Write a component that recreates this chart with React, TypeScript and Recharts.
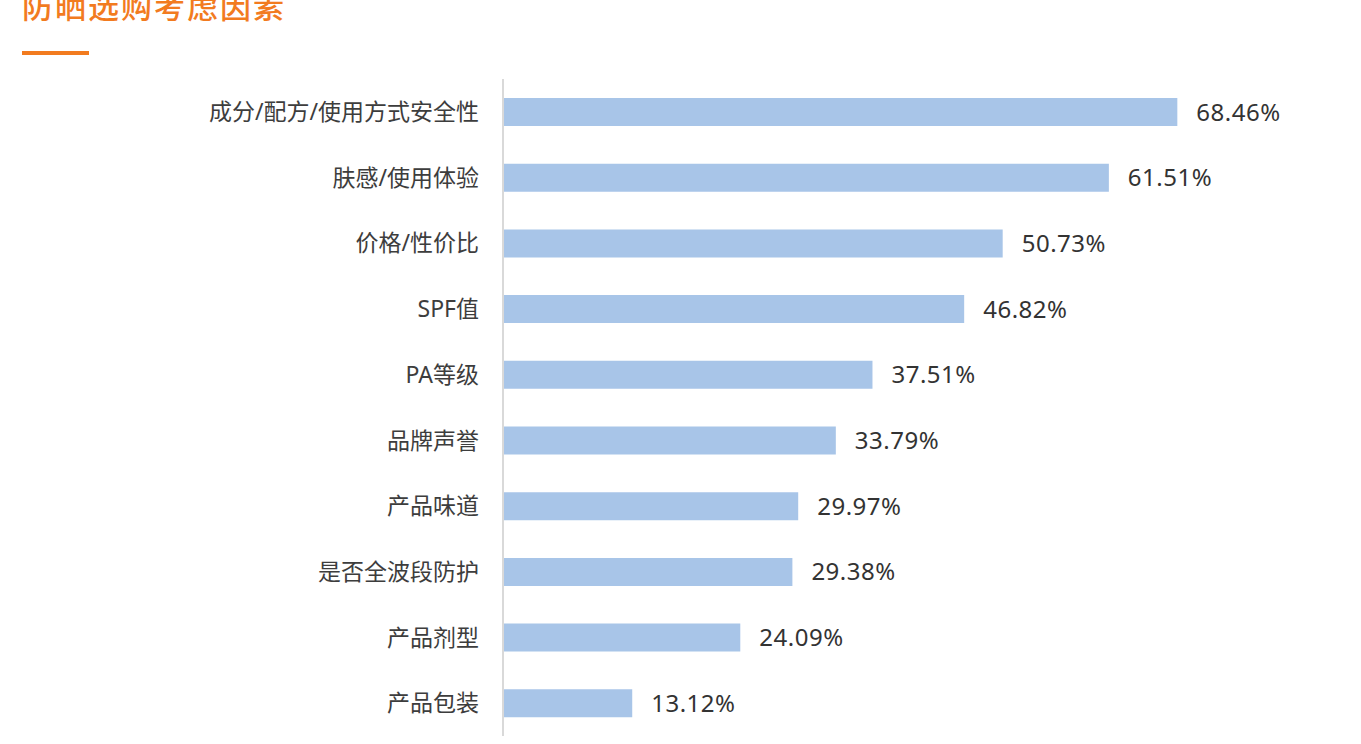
import { Bar, BarChart, LabelList, XAxis, YAxis } from "recharts";

const categories = [
  "成分/配方/使用方式安全性",
  "肤感/使用体验",
  "价格/性价比",
  "SPF值",
  "PA等级",
  "品牌声誉",
  "产品味道",
  "是否全波段防护",
  "产品剂型",
  "产品包装",
];

const shares = [68.46, 61.51, 50.73, 46.82, 37.51, 33.79, 29.97, 29.38, 24.09, 13.12];

const data = categories.map((name, i) => ({ name, value: shares[i] }));

const FONT = '"Noto Sans", "Noto Sans CJK SC", sans-serif';

export default function App() {
  return (
    <div
      style={{
        position: "fixed",
        left: 0,
        top: 0,
        width: 1361,
        height: 744,
        background: "#fff",
        overflow: "hidden",
        fontFamily: FONT,
      }}
    >
      <div
        style={{
          position: "absolute",
          left: 22,
          top: -18,
          fontSize: 31,
          fontWeight: 500,
          letterSpacing: 2,
          color: "#F27B1F",
          fontFamily: '"Noto Sans CJK SC", sans-serif',
          whiteSpace: "nowrap",
        }}
      >
        防晒选购考虑因素
      </div>
      <div
        style={{
          position: "absolute",
          left: 22,
          top: 51,
          width: 67,
          height: 4,
          background: "#F27B1F",
        }}
      />
      <BarChart
        width={1361}
        height={744}
        data={data}
        layout="vertical"
        margin={{ top: 79, right: 70, bottom: 8, left: 0 }}
        barCategoryGap={19}
        style={{ position: "absolute", left: 0, top: 0 }}
      >
        <XAxis type="number" domain={[0, 80]} hide />
        <YAxis
          type="category"
          dataKey="name"
          width={503}
          tickLine={false}
          tickSize={0}
          tickMargin={24}
          axisLine={{ stroke: "#D9D9D9", strokeWidth: 2 }}
          tick={{ fontSize: 23, fill: "#3d3d3d", fontFamily: FONT }}
          interval={0}
        />
        <Bar dataKey="value" fill="#A8C5E8" isAnimationActive={false}>
          <LabelList
            dataKey="value"
            position="right"
            offset={19}
            formatter={(v: number) => `${v.toFixed(2)}%`}
            style={{ fontSize: 24, fill: "#333333", fontFamily: FONT, letterSpacing: 0.5 }}
          />
        </Bar>
      </BarChart>
    </div>
  );
}
